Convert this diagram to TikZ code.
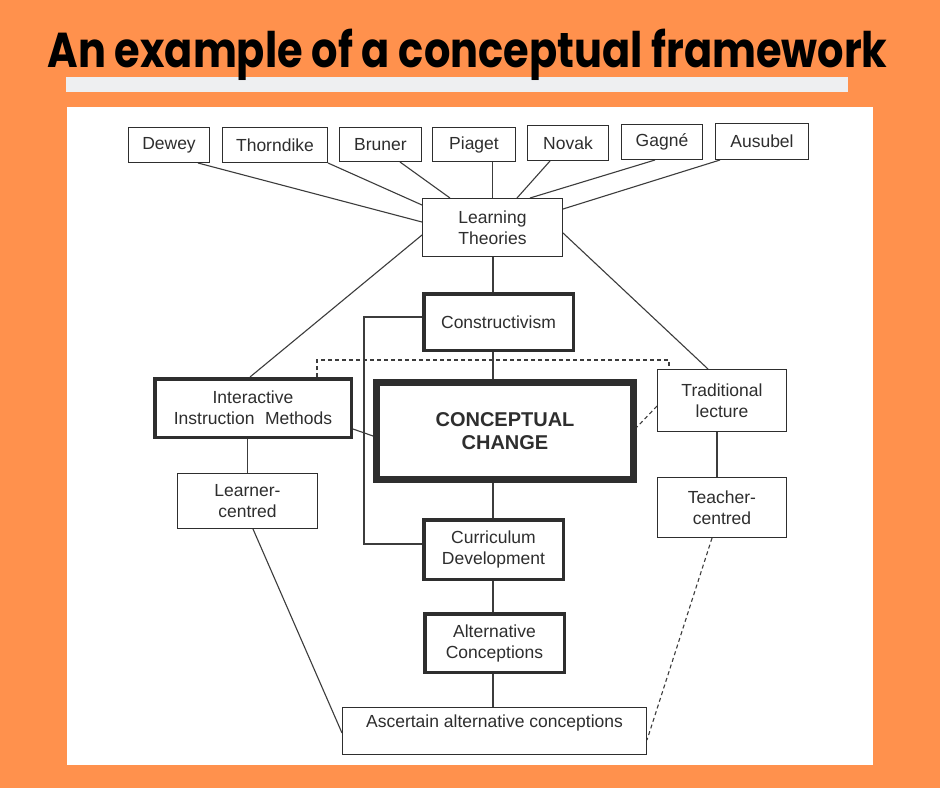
\documentclass[tikz,border=0pt]{standalone}
\usepackage{fontspec}
\setmainfont{Liberation Sans}
\newfontfamily\titlefont{Poppins}
\usetikzlibrary{calc}
\definecolor{bgorange}{HTML}{FF914D}
\definecolor{barGrey}{HTML}{EEEFF1}
\definecolor{ink}{HTML}{2E2E2E}
\definecolor{lineGrey}{HTML}{3C3C3C}
\pgfdeclarelayer{back}
\pgfdeclarelayer{links}
\pgfsetlayers{back,links,main}
\begin{document}
\begin{tikzpicture}[x=1pt,y=-1pt,
  thinbox/.style={draw=ink, line width=1.2pt, fill=white, text=ink, align=center, inner sep=0pt, font=\fontsize{17.5}{21}\selectfont},
  thickbox/.style={thinbox, line width=3.5pt},
  ccbox/.style={thinbox, line width=7pt, font=\fontsize{20}{23.5}\selectfont\bfseries},
  link/.style={draw=lineGrey, line width=1.1pt},
  dlink/.style={link, dash pattern=on 4pt off 3pt},
]
\useasboundingbox (0,0) rectangle (940,788);
\begin{pgfonlayer}{back}
  \fill[bgorange] (0,0) rectangle (940,788);
  \fill[barGrey] (66,77) rectangle (848,92);
  \fill[white] (67,107) rectangle (873,765);
\end{pgfonlayer}

\node[anchor=base, inner sep=0pt, text=black] (title) at (467.5,67)
  {\resizebox{840pt}{\height}{\titlefont\fontsize{49}{49}\selectfont\bfseries An example of a conceptual framework}};

% top row
\node[thinbox, minimum width=80.8, minimum height=34.8] (dewey) at (169,145) {Dewey};
\node[thinbox, minimum width=104.8, minimum height=34.8] (thorn) at (275,145) {Thorndike};
\node[thinbox, minimum width=81.8, minimum height=33.8] (bruner) at (380.5,144.5) {Bruner};
\node[thinbox, minimum width=82.8, minimum height=33.8] (piaget) at (474,144.5) {Piaget};
\node[thinbox, minimum width=80.8, minimum height=34.8] (novak) at (568,143) {Novak};
\node[thinbox, minimum width=80.8, minimum height=34.8] (gagne) at (662,142) {Gagné};
\node[thinbox, minimum width=92.8, minimum height=35.8] (ausubel) at (762,141.5) {Ausubel};

\node[thinbox, minimum width=139.8, minimum height=57.8] (lt) at (492.5,227.5) {Learning\\Theories};
\node[thickbox, minimum width=149.5, minimum height=56.5] (cons) at (498.5,322) {Constructivism};
\node[thickbox, minimum width=196.5, minimum height=58.5] (inter) at (253,408) {Interactive\\Instruction\hspace{0.6em}Methods};
\node[ccbox, minimum width=257, minimum height=97] (cc) at (505,431) {CONCEPTUAL\\CHANGE};
\node[thinbox, minimum width=128.8, minimum height=61.8] (trad) at (722,400.5) {Traditional\\lecture};
\node[thinbox, minimum width=139.8, minimum height=54.8] (learner) at (247.5,501) {Learner-\\centred};
\node[thinbox, minimum width=128.8, minimum height=59.8] (teach) at (722,507.5) {Teacher-\\centred};
\node[thickbox, minimum width=139.5, minimum height=59.5] (curr) at (493.5,549.5) {Curriculum\\Development};
\node[thickbox, minimum width=139.5, minimum height=58.5] (alt) at (494.5,643) {Alternative\\Conceptions};
\node[thinbox, minimum width=303.8, minimum height=46.8, text depth=20pt] (asc) at (494.5,731) {Ascertain alternative conceptions};

\coordinate (sp) at (493,0);
\coordinate (bx) at (364,0);
\coordinate (dy) at (0,360);

\begin{pgfonlayer}{links}
  % theorists to learning theories
  \draw[link] ([xshift=-12pt]dewey.south east) -- ([yshift=5.5pt]lt.west);
  \draw[link] (thorn.south east) -- ([yshift=22.5pt]lt.west);
  \draw[link] ([xshift=-22pt]bruner.south east) -- ([xshift=28pt]lt.north west);
  \draw[link] (piaget.south -| lt.north) -- (lt.north);
  \draw[link] ([xshift=-18pt]novak.south) -- ([xshift=24.5pt]lt.north);
  \draw[link] ([xshift=-7pt]gagne.south) -- ([xshift=37.5pt]lt.north);
  \draw[link] ([xshift=5pt]ausubel.south west) -- ([yshift=18.5pt]lt.east);
  % learning theories to sides
  \draw[link] ([yshift=-7.5pt]lt.west) -- ([xshift=-3pt]inter.north);
  \draw[link] ([yshift=-5.5pt]lt.east) -- ([xshift=-14pt]trad.north);
  % spine
  \draw[link] (lt.south -| sp) -- (cons.north -| sp);
  \draw[link] (cons.south -| sp) -- (cc.north -| sp);
  \draw[link] (cc.south -| sp) -- (curr.north -| sp);
  \draw[link] (curr.south -| sp) -- (alt.north -| sp);
  \draw[link] (alt.south -| sp) -- (asc.north -| sp);
  % left side
  \draw[link] (inter.south -| learner.north) -- (learner.north);
  \draw[link] ([yshift=-21pt]inter.east) -- ([yshift=-5pt]cc.west);
  \draw[link] ([xshift=5.5pt]learner.south) -- ([yshift=-2pt]asc.west);
  % right side
  \draw[link] ([xshift=-5pt]trad.south) -- ([xshift=-5pt]teach.north);
  \draw[dlink] ([xshift=-10pt]teach.south) -- ([yshift=-9pt]asc.east);
  \draw[dlink] ([yshift=-5.5pt]trad.west) -- ([yshift=4pt]cc.east);
  % bracket constructivism - curriculum
  \path ([yshift=5pt]cons.west) coordinate (b1) ([yshift=5.5pt]curr.west) coordinate (b2);
  \draw[link] (b1) -- (bx |- b1) -- (bx |- b2) -- (b2);
  % dashed top link
  \path ([xshift=64pt]inter.north) coordinate (d1) ([xshift=-53pt]trad.north) coordinate (d2);
  \draw[dlink] (d1) -- (d1 |- dy) -- (d2 |- dy) -- (d2);
\end{pgfonlayer}
\end{tikzpicture}
\end{document}
